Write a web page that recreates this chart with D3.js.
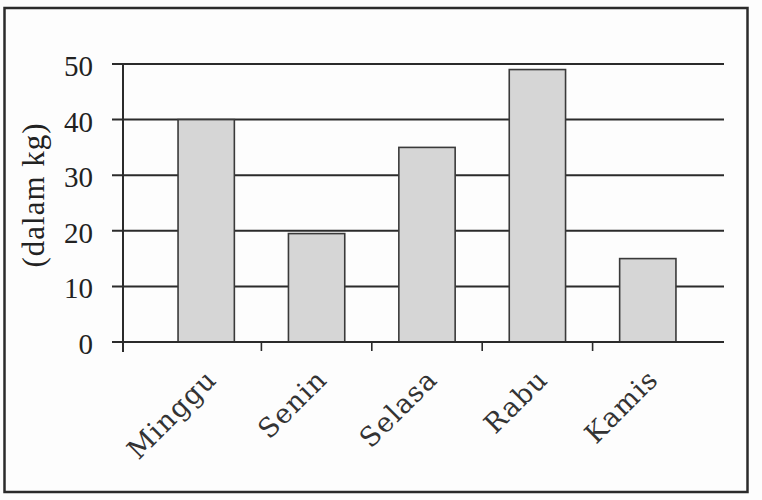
<!DOCTYPE html>
<html>
<head>
<meta charset="utf-8">
<script src="https://cdn.jsdelivr.net/npm/d3@7"></script>
<style>
  html, body { margin: 0; padding: 0; background: #ffffff; }
  svg { display: block; }
</style>
</head>
<body>
<svg id="chart" width="762" height="500"></svg>
<script>
// ---- data ----
const categories = ["Minggu", "Senin", "Selasa", "Rabu", "Kamis"];
const values = [40, 19.5, 35, 49, 15];
const yTicks = [0, 10, 20, 30, 40, 50];
const yTitle = "(dalam kg)";

// ---- layout ----
const svg = d3.select("#chart");
const W = 762, H = 500;
const axisX = 123, gridLeft = 112, gridRight = 724;
const yTop = 64, yBottom = 342;
const ink = "#2b2b2b";

svg.append("rect").attr("width", W).attr("height", H).attr("fill", "#fdfdfd");

// outer frame
svg.append("rect")
  .attr("x", 4.5).attr("y", 8).attr("width", 743).attr("height", 484)
  .attr("fill", "none").attr("stroke", ink).attr("stroke-width", 2.5);

const x = d3.scaleBand().domain(categories).range([151, 703]).paddingInner(0.49).paddingOuter(0.245);
const y = d3.scaleLinear().domain([0, 50]).range([yBottom, yTop]);

// gridlines
svg.append("g").selectAll("line").data(yTicks).join("line")
  .attr("x1", gridLeft).attr("x2", gridRight)
  .attr("y1", d => y(d)).attr("y2", d => y(d))
  .attr("stroke", ink).attr("stroke-width", 2);

// bars
svg.append("g").selectAll("rect").data(categories).join("rect")
  .attr("x", d => x(d))
  .attr("y", (d, i) => y(values[i]))
  .attr("width", x.bandwidth())
  .attr("height", (d, i) => y(0) - y(values[i]))
  .attr("fill", "#d6d6d6")
  .attr("stroke", "#3a3a3a").attr("stroke-width", 1.6);

// y axis line
svg.append("line")
  .attr("x1", axisX).attr("x2", axisX)
  .attr("y1", y(50)).attr("y2", y(0) + 10)
  .attr("stroke", ink).attr("stroke-width", 2);

// x axis line
svg.append("line")
  .attr("x1", gridLeft).attr("x2", gridRight)
  .attr("y1", y(0)).attr("y2", y(0))
  .attr("stroke", ink).attr("stroke-width", 2.2);

// x ticks between categories
const step = x.step();
const tickPos = categories.slice(1).map(c => x(c) + x.bandwidth() / 2 - step / 2);
svg.append("g").selectAll("line").data(tickPos).join("line")
  .attr("x1", d => d).attr("x2", d => d)
  .attr("y1", y(0)).attr("y2", y(0) + 9)
  .attr("stroke", ink).attr("stroke-width", 1.6);

// y tick labels
svg.append("g").selectAll("text").data(yTicks).join("text")
  .attr("x", 93).attr("y", d => y(d) + 2)
  .attr("text-anchor", "end")
  .attr("dominant-baseline", "central")
  .attr("font-family", "'Liberation Serif', 'Times New Roman', serif")
  .attr("font-size", 29)
  .attr("fill", "#222")
  .text(d => d);

// y title
svg.append("text")
  .attr("transform", "translate(44,195) rotate(-90)")
  .attr("text-anchor", "middle")
  .attr("font-family", "'Liberation Serif', 'Times New Roman', serif")
  .attr("font-size", 31)
  .attr("letter-spacing", 1)
  .attr("fill", "#222")
  .text(yTitle);

// x category labels, rotated
svg.append("g").selectAll("text").data(categories).join("text")
  .attr("transform", d => `translate(${x(d) + x.bandwidth() / 2 + 12},381) rotate(-45)`)
  .attr("text-anchor", "end")
  .attr("font-family", "'DejaVu Serif', serif")
  .attr("font-size", 27)
  .attr("letter-spacing", 1.2)
  .attr("fill", "#333")
  .text(d => d);
</script>
</body>
</html>
